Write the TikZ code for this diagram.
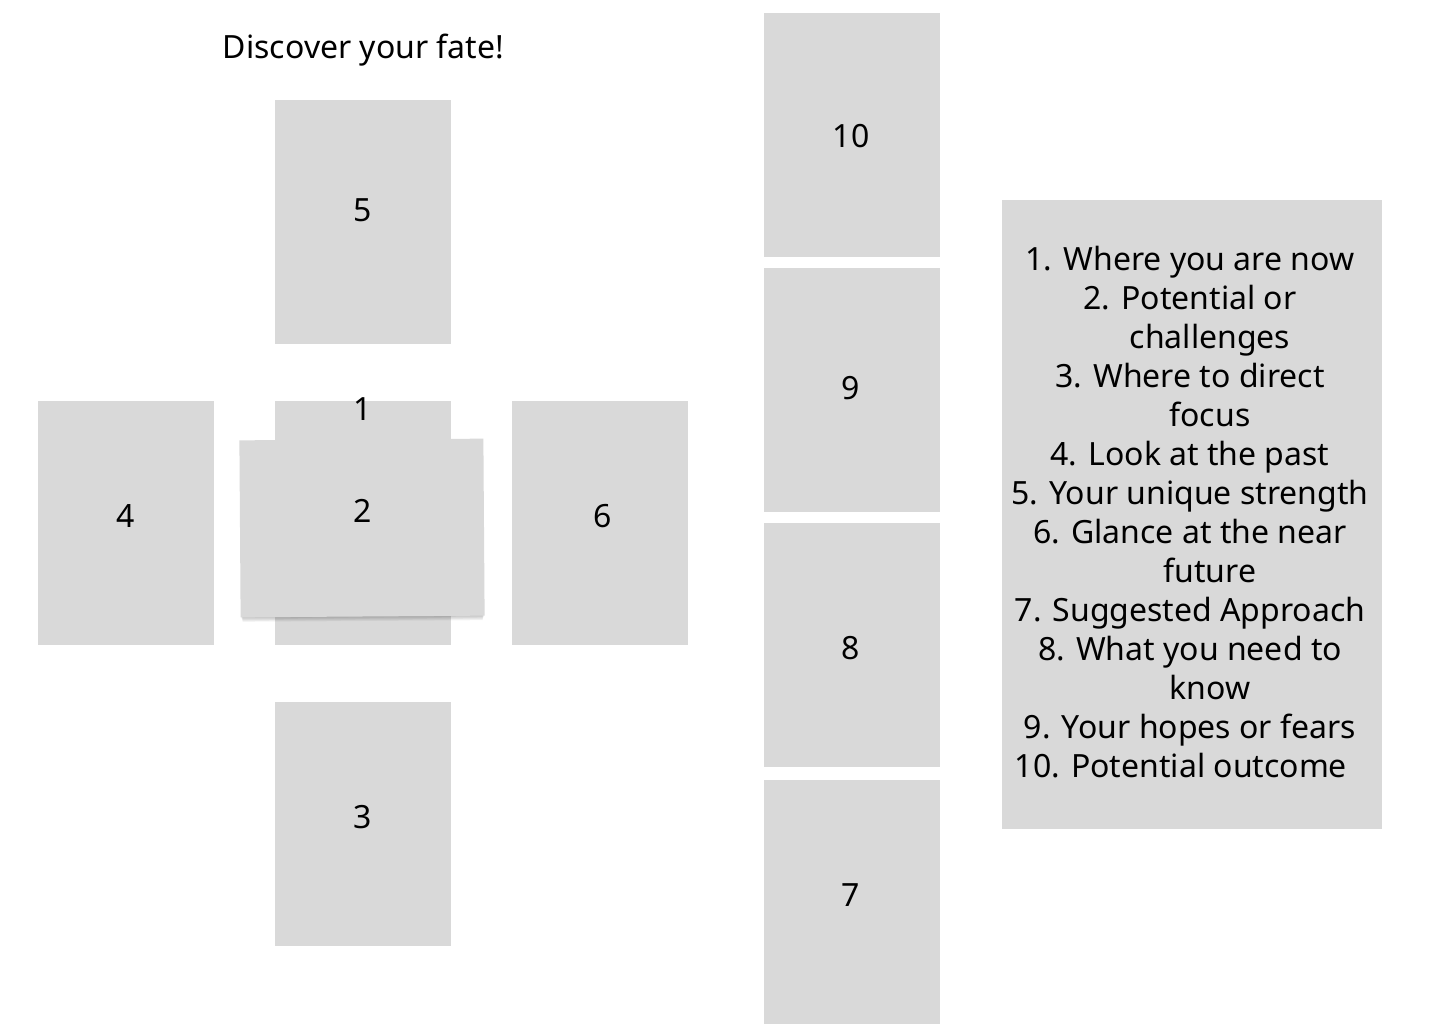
\documentclass[tikz,border=0pt]{standalone}
\usepackage{fontspec}
\setmainfont{Noto Sans}
\definecolor{cardgray}{HTML}{D9D9D9}
\begin{document}
\begin{tikzpicture}[x=1pt,y=-1pt,
  card/.style={fill=cardgray, draw=none, minimum width=176pt, minimum height=244pt, inner sep=0pt, anchor=north west},
  num/.style={font=\fontsize{32}{38}\selectfont, inner sep=0pt, text=black},
  legend/.style={fill=cardgray, draw=none, minimum width=380pt, minimum height=629pt, inner sep=0pt, anchor=north west}]
\useasboundingbox[fill=white] (0,0) rectangle (1440,1024);
\node[num] (title) at (363.5,50) {Discover your fate!};
% cross
\node[card] (c5) at (275,100) {};
\node[card] (c1) at (275,401) {};
\node[card] (c4) at (38,401) {};
\node[card] (c6) at (512,401) {};
\node[card] (c3) at (275,702) {};
% soft shadow of the crossing card
\begin{scope}[shift={(362,528)}, rotate=0.4]
  \foreach \k in {1,2,3,4,5} {
    \fill[black, opacity=0.045] (-121.5+0.3*\k,-85+\k) rectangle (121.5-0.3*\k,88.5+\k*0.9);
  }
\end{scope}
\node[fill=cardgray, draw=none, minimum width=244pt, minimum height=177pt, inner sep=0pt, rotate=0.4] (c2) at (362,528) {};
% staff
\node[card] (c10) at (764,13) {};
\node[card] (c9) at (764,268) {};
\node[card] (c8) at (764,523) {};
\node[card] (c7) at (764,780) {};
% legend box
\node[legend] (leg) at (1002,200) {};
% numbers
\node[num] (n5) at (363,210) {5};
\node[num] (n1) at (363,409) {1};
\node[num] (n2) at (363,511) {2};
\node[num] (n4) at (126,516) {4};
\node[num] (n6) at (603,516) {6};
\node[num] (n3) at (363,817) {3};
\node[num] (n10) at (851,136) {10};
\node[num] (n9) at (851,388) {9};
\node[num] (n8) at (851,648) {8};
\node[num] (n7) at (851,895) {7};
% legend text
\node[font=\fontsize{32}{39}\selectfont, align=center, inner sep=0pt, anchor=north] (legtext) at (1190,246) {%
1. Where you are now\\
2. Potential or\\
\hspace*{40pt}challenges\\
3. Where to direct\\
\hspace*{40pt}focus\\
4. Look at the past\\
5. Your unique strength\\
6. Glance at the near\\
\hspace*{40pt}future\\
7. Suggested Approach\\
8. What you need to\\
\hspace*{40pt}know\\
9. Your hopes or fears\\
10. Potential outcome\hspace*{18pt}};
\end{tikzpicture}
\end{document}
